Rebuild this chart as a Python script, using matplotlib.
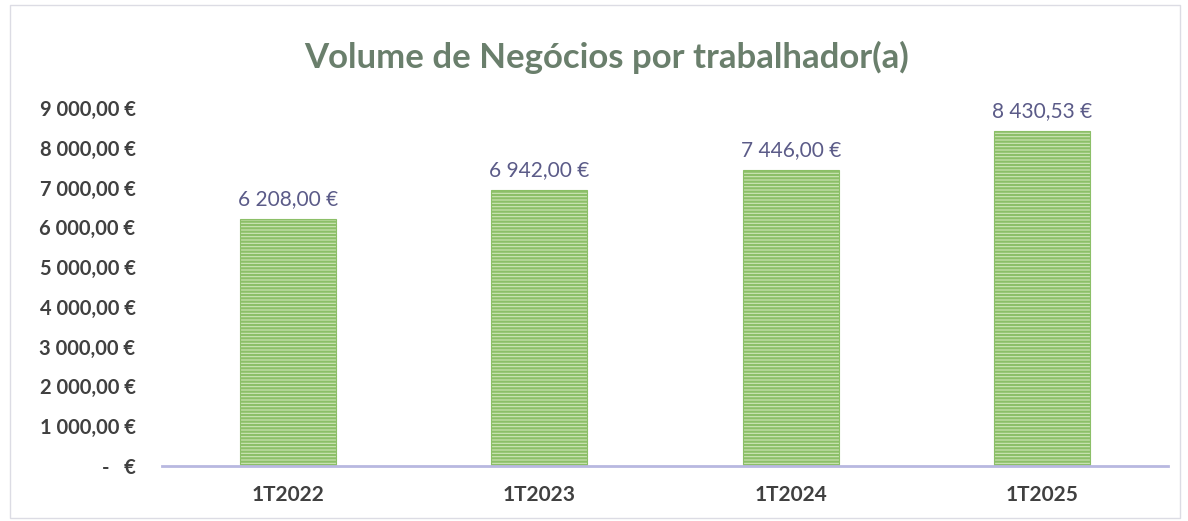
import matplotlib
matplotlib.use("Agg")
from matplotlib import pyplot as plt
from matplotlib.patches import Rectangle

# Data
categories = ['1T2022', '1T2023', '1T2024', '1T2025']
values = [6208.00, 6942.00, 7446.00, 8430.53]
yticks = [0, 1000, 2000, 3000, 4000, 5000, 6000, 7000, 8000, 9000]


def fmt_eur(v):
    if v == 0:
        return '-   €'
    s = f'{v:,.2f}'.replace(',', ' ').replace('.', ',')
    return s + ' €'


plt.rcParams['font.family'] = ['Lato', 'DejaVu Sans']
plt.rcParams['hatch.linewidth'] = 1.6
plt.rcParams['hatch.color'] = '#79ae56'

fig = plt.figure(figsize=(11.88, 5.21), dpi=100)
ax = fig.add_axes([162 / 1188, 1 - 466 / 521, 1006 / 1188, (466 - 108) / 521])

# light frame around the chart
fig.patches.append(Rectangle((10 / 1188, 0.005), 1170 / 1188, 0.985, transform=fig.transFigure,
                             fill=False, edgecolor='#dcdce4', linewidth=1))

x = range(len(categories))
bars = ax.bar(x, values, width=0.38, color='#cfe6b8', edgecolor='#8cbf68',
              hatch='-----', linewidth=0.8)

for i, v in enumerate(values):
    ax.text(i, v + 250, fmt_eur(v), ha='center', va='bottom', fontsize=15, color='#5b5b88')

ax.set_xlim(-0.5, len(categories) - 0.5)
ax.set_ylim(0, 9000)
ax.set_yticks(yticks)
ax.set_yticklabels([fmt_eur(t) for t in yticks], fontsize=14.5, fontweight='bold', color='#404040')
ax.set_xticks(list(x))
ax.set_xticklabels(categories, fontsize=15, fontweight='bold', color='#404040')
ax.tick_params(length=0, axis='y', pad=19)
ax.tick_params(length=0, axis='x', pad=14)

for side in ['top', 'right', 'left']:
    ax.spines[side].set_visible(False)
ax.spines['bottom'].set_color('#b8b8e0')
ax.spines['bottom'].set_linewidth(2)

fig.text(607 / 1188, 1 - 57 / 521, 'Volume de Negócios por trabalhador(a)', ha='center', va='center',
         fontsize=25, fontweight='bold', color='#6a7f6c')

fig.savefig('out.png', dpi=100)
